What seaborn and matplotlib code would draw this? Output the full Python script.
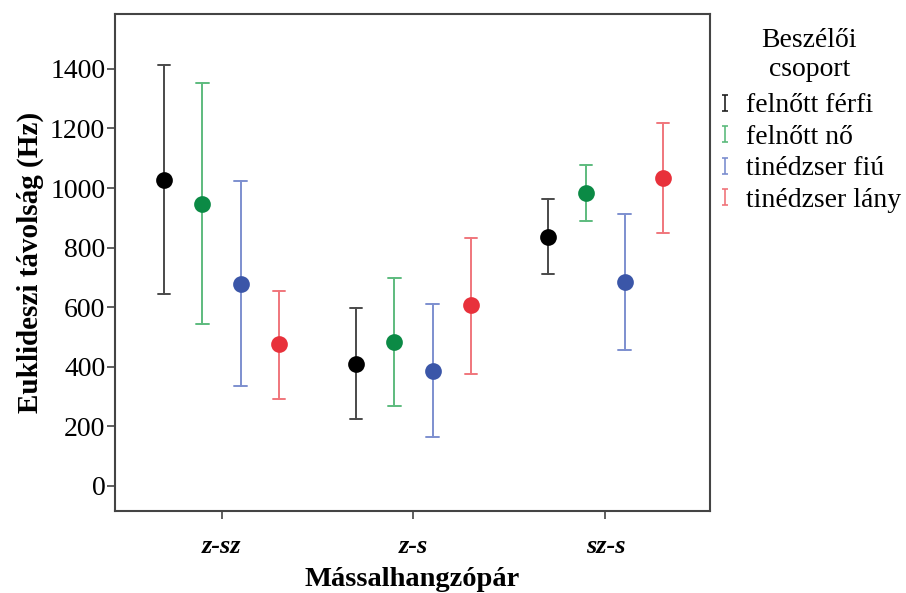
import numpy as np
import pandas as pd
import matplotlib
matplotlib.use("Agg")
import matplotlib.pyplot as plt
from matplotlib.lines import Line2D
from matplotlib.path import Path
import seaborn as sns

# consonant pairs and speaker groups
pairs = ["z-sz", "z-s", "sz-s"]
groups = ["felnőtt férfi", "felnőtt nő", "tinédzser fiú", "tinédzser lány"]

# means and 95% CI limits (Hz); rows = groups, cols = pairs
means = [[1028, 411, 834],
         [948, 482, 984],
         [678, 385, 683],
         [476, 606, 1033]]
lower = [[643, 225, 710],
         [544, 269, 888],
         [335, 164, 455],
         [291, 375, 849]]
upper = [[1413, 596, 964],
         [1351, 697, 1078],
         [1025, 610, 914],
         [656, 831, 1217]]

marker_colors = ["#000000", "#0b8a45", "#3b56a8", "#e8313b"]
bar_colors = ["#4a4a4a", "#5dbb7e", "#7d8fcf", "#f0767c"]

# long table: lower / mean / upper per cell -> median = mean, min/max = CI
rows = []
for gi, g in enumerate(groups):
    for pi, p in enumerate(pairs):
        for v in (lower[gi][pi], means[gi][pi], upper[gi][pi]):
            rows.append({"pair": p, "group": g, "value": v})
df = pd.DataFrame(rows)

sns.set_style("white")
plt.rcParams["font.family"] = ["Liberation Serif", "DejaVu Serif"]
plt.rcParams["text.color"] = "black"
plt.rcParams["axes.labelcolor"] = "black"
plt.rcParams["xtick.color"] = "black"
plt.rcParams["ytick.color"] = "black"

fig = plt.figure(figsize=(9.06, 5.93), dpi=100)
ax = fig.add_axes([115/906, 1 - 511/593, (710 - 115)/906, (511 - 14)/593])

# error bars first (lighter), then markers on top
sns.pointplot(data=df, x="pair", y="value", hue="group", order=pairs, hue_order=groups,
              estimator="median", errorbar=lambda x: (x.min(), x.max()),
              palette=bar_colors, dodge=0.6, linestyle="none", markers="",
              capsize=0.065, err_kws={"linewidth": 1.4}, legend=False, ax=ax)
sns.pointplot(data=df, x="pair", y="value", hue="group", order=pairs, hue_order=groups,
              estimator="median", errorbar=None,
              palette=marker_colors, dodge=0.6, linestyle="none", markers="o",
              markersize=10, legend=False, ax=ax)

ax.set_ylim(-84, 1584)
ax.set_xlim(-0.555, 2.545)
ax.set_yticks(np.arange(0, 1401, 200))
ax.tick_params(axis="both", which="both", direction="out", length=6, width=1.2,
               color="#444444", left=True, bottom=True)
ax.tick_params(axis="y", labelsize=20, pad=1)
ax.tick_params(axis="x", labelsize=19, pad=11)
for lab in ax.get_xticklabels():
    lab.set_style("italic")
    lab.set_fontweight("bold")
for s in ax.spines.values():
    s.set_color("#444444")
    s.set_linewidth(1.5)

ax.set_ylabel("Euklideszi távolság (Hz)", fontsize=21, fontweight="bold", labelpad=4)
ax.set_xlabel("Mássalhangzópár", fontsize=20.5, fontweight="bold", labelpad=6.5)

# legend with capped-bar glyphs
bar_path = Path([(-0.35, -1), (0.35, -1), (0, -1), (0, 1), (-0.35, 1), (0.35, 1)],
                [Path.MOVETO, Path.LINETO, Path.MOVETO, Path.LINETO, Path.MOVETO, Path.LINETO])
handles = [Line2D([], [], linestyle="none", marker=bar_path, markersize=12,
                  markeredgewidth=1.2, markeredgecolor=c, markerfacecolor="none")
           for c in bar_colors]
handles[0].set_markeredgecolor("#222222")
leg = ax.legend(handles, groups, title="Beszélői\ncsoport", loc="upper left",
                bbox_to_anchor=(0.99, 1.0), frameon=False, fontsize=20,
                title_fontsize=20, handlelength=0.5, handletextpad=0.5,
                labelspacing=0.22, borderaxespad=0.2, borderpad=0.3)
leg._legend_box.align = "center"
leg._legend_box.sep = 8
leg.get_title().set_multialignment("center")

fig.savefig("out.png", dpi=100)
